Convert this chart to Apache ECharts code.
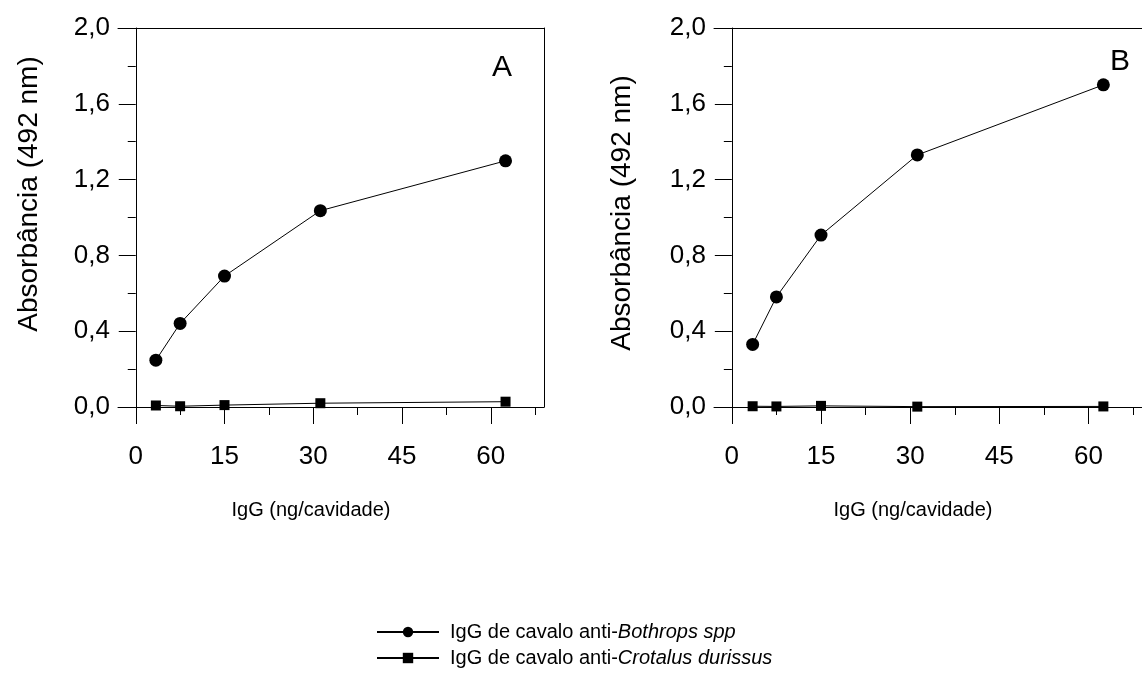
<!DOCTYPE html>
<html>
<head>
<meta charset="utf-8">
<script src="https://cdn.jsdelivr.net/npm/echarts@6/dist/echarts.min.js"></script>
<style>
  html, body { margin: 0; padding: 0; background: #fff; }
  #chart { width: 1142px; height: 681px; }
</style>
</head>
<body>
<div id="chart"></div>
<script>
// ---- data ----
const xValuesA = [3.4, 7.5, 15, 31.2, 62.5];
const bothropsA = [0.247, 0.441, 0.691, 1.036, 1.299];
const crotalusA = [0.008, 0.004, 0.010, 0.020, 0.028];

const xValuesB = [3.5, 7.5, 15, 31.2, 62.5];
const bothropsB = [0.330, 0.581, 0.907, 1.330, 1.700];
const crotalusB = [0.004, 0.003, 0.006, 0.002, 0.003];

const xMajorTicks = [0, 15, 30, 45, 60];
const xMinorTicks = [7.5, 22.5, 37.5, 52.5, 67.5];
const panelLabels = ['A', 'B'];
const seriesNames = ['IgG de cavalo anti-Bothrops spp', 'IgG de cavalo anti-Crotalus durissus'];
const legendPlain = ['IgG de cavalo anti-', 'IgG de cavalo anti-'];
const legendItalic = ['Bothrops spp', 'Crotalus durissus'];
const yTitle = 'Absorbância (492 nm)';
const xTitle = 'IgG (ng/cavidade)';

// ---- chart ----
const FONT = 'Liberation Sans, Arial, sans-serif';
const INK = '#000';
const chart = echarts.init(document.getElementById('chart'), null, { renderer: 'canvas' });

const X_MIN = -3, X_MAX = 69;
const grids = [
  { left: 118, top: 28, width: 426, height: 379 },
  { left: 714, top: 28, width: 436, height: 379 }
];

function pair(xs, ys) { return xs.map((x, i) => [x, ys[i]]); }
function fmtComma(v) { return v.toFixed(1).replace('.', ','); }

const xAxes = [];
const yAxes = [];
grids.forEach((g, gi) => {
  xAxes.push({
    type: 'value', gridIndex: gi, position: 'bottom', min: X_MIN, max: X_MAX,
    axisLine: { show: true, onZero: true, lineStyle: { color: INK, width: 1 } },
    axisTick: { show: true, inside: false, length: 17, customValues: xMajorTicks, lineStyle: { color: INK, width: 1 } },
    axisLabel: { show: true, customValues: xMajorTicks, margin: 37, fontFamily: FONT, fontSize: 26, color: INK },
    splitLine: { show: false }
  });
  xAxes.push({
    type: 'value', gridIndex: gi, position: 'bottom', min: X_MIN, max: X_MAX,
    axisLine: { show: false, onZero: true },
    axisTick: { show: true, inside: false, length: 8, customValues: xMinorTicks, lineStyle: { color: INK, width: 1 } },
    axisLabel: { show: false },
    splitLine: { show: false }
  });
  xAxes.push({
    type: 'value', gridIndex: gi, position: 'top', min: X_MIN, max: X_MAX,
    axisLine: { show: true, onZero: false, lineStyle: { color: INK, width: 1 } },
    axisTick: { show: false }, axisLabel: { show: false }, splitLine: { show: false }
  });
  yAxes.push({
    type: 'value', gridIndex: gi, position: 'left', min: 0, max: 2, interval: 0.4,
    axisLine: { show: true, onZero: true, lineStyle: { color: INK, width: 1 } },
    axisTick: { show: true, inside: false, length: 17, lineStyle: { color: INK, width: 1 } },
    minorTick: { show: true, splitNumber: 2, length: 8, lineStyle: { color: INK, width: 1 } },
    axisLabel: { show: true, margin: 8, fontFamily: FONT, fontSize: 26, color: INK, formatter: fmtComma },
    splitLine: { show: false }, minorSplitLine: { show: false }
  });
  yAxes.push({
    type: 'value', gridIndex: gi, position: 'right', min: 0, max: 2,
    axisLine: { show: true, onZero: false, lineStyle: { color: INK, width: 1 } },
    axisTick: { show: false }, axisLabel: { show: false }, splitLine: { show: false }
  });
});

function mkSeries(name, xs, ys, symbol, size, xi, yi) {
  return {
    name: name, type: 'line', xAxisIndex: xi, yAxisIndex: yi,
    data: pair(xs, ys), symbol: symbol, symbolSize: size, showSymbol: true,
    lineStyle: { color: INK, width: 1 }, itemStyle: { color: INK, borderWidth: 0 },
    animation: false, silent: true, clip: false
  };
}

const series = [
  mkSeries(seriesNames[0], xValuesA, bothropsA, 'circle', 13, 0, 0),
  mkSeries(seriesNames[1], xValuesA, crotalusA, 'rect', 10, 0, 0),
  mkSeries(seriesNames[0], xValuesB, bothropsB, 'circle', 13, 3, 2),
  mkSeries(seriesNames[1], xValuesB, crotalusB, 'rect', 10, 3, 2)
];

function rotTitle(x, y) {
  return { type: 'text', x: x, y: y, rotation: Math.PI / 2,
    style: { text: yTitle, x: 0, y: 0, align: 'center', verticalAlign: 'middle', font: '28px ' + FONT, fill: INK } };
}
function plainText(t, x, y, size) {
  return { type: 'text', x: x, y: y,
    style: { text: t, x: 0, y: 0, align: 'center', verticalAlign: 'middle', font: size + 'px ' + FONT, fill: INK } };
}

const graphic = [
  rotTitle(29, 194),
  rotTitle(622, 213),
  plainText(xTitle, 311, 510, 20),
  plainText(xTitle, 913, 510, 20),
  plainText(panelLabels[0], 502, 68, 30),
  plainText(panelLabels[1], 1120, 62, 30)
];

chart.setOption({
  backgroundColor: '#fff',
  animation: false,
  grid: grids.map(g => Object.assign({ containLabel: false }, g)),
  xAxis: xAxes,
  yAxis: yAxes,
  legend: {
    show: true, orient: 'vertical', left: 371, top: 617, padding: 5,
    itemWidth: 62, itemHeight: 13, itemGap: 6,
    data: seriesNames,
    formatter: function (name) {
      const i = seriesNames.indexOf(name);
      return '{n|' + legendPlain[i] + '}{i|' + legendItalic[i] + '}';
    },
    textStyle: {
      fontFamily: FONT, fontSize: 20, color: INK, padding: [0, 0, 0, 6],
      rich: {
        n: { fontFamily: FONT, fontSize: 20, color: INK, lineHeight: 20 },
        i: { fontFamily: FONT, fontSize: 20, color: INK, fontStyle: 'italic', lineHeight: 20 }
      }
    },
    selectedMode: false
  },
  graphic: graphic,
  series: series
});
</script>
</body>
</html>
